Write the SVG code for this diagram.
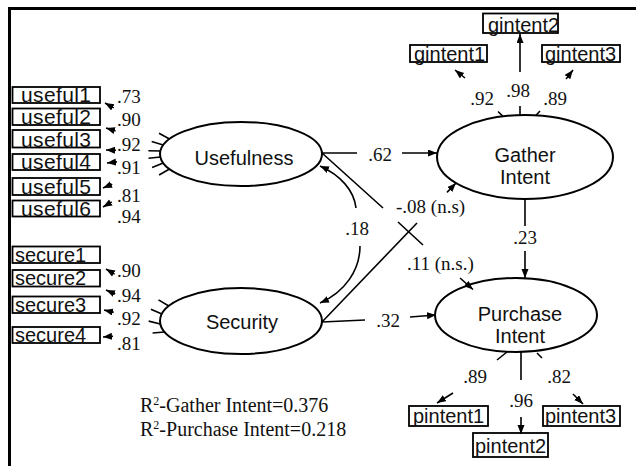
<svg xmlns="http://www.w3.org/2000/svg" width="636" height="466" viewBox="0 0 636 466">
  <style>
    .frame { stroke: #000; stroke-width: 3; fill: none; }
    .lv { fill: #fff; stroke: #000; stroke-width: 2; }
    .box { fill: #fff; stroke: #000; stroke-width: 1.8; }
    .sans { font-family: "Liberation Sans", Arial, sans-serif; font-size: 20px; fill: #111; }
    .ind { font-size: 21px; }
    .serif { font-family: "Liberation Serif", "Times New Roman", serif; font-size: 19px; fill: #111; }
    .note { font-size: 20px; }
    .mid { text-anchor: middle; }
    .ln { stroke: #000; stroke-width: 1.6; fill: none; }
    .arr { stroke: #000; stroke-width: 1.6; fill: none; marker-end: url(#ah); }
  </style>
  <defs>
    <marker id="ah" markerUnits="userSpaceOnUse" markerWidth="10" markerHeight="8" refX="9" refY="3.5" orient="auto">
      <path d="M0,0 L9,3.5 L0,7 z" fill="#000"/>
    </marker>
  </defs>

  <!-- page frame -->
  <path class="frame" d="M9.5,466 L9.5,8.5 L636,8.5"/>

  <!-- latent variables -->
  <g id="usefulness">
    <ellipse class="lv" cx="241" cy="154" rx="81" ry="32"/>
    <text class="sans mid" x="244" y="165">Usefulness</text>
  </g>
  <g id="security">
    <ellipse class="lv" cx="241" cy="321" rx="81" ry="33"/>
    <text class="sans mid" x="242" y="329">Security</text>
  </g>
  <g id="gather-intent">
    <ellipse class="lv" cx="525" cy="157" rx="88" ry="42"/>
    <text class="sans mid" x="525" y="162">Gather</text>
    <text class="sans mid" x="525" y="184">Intent</text>
  </g>
  <g id="purchase-intent">
    <ellipse class="lv" cx="516" cy="315" rx="81" ry="37"/>
    <text class="sans mid" x="520" y="321">Purchase</text>
    <text class="sans mid" x="520" y="343">Intent</text>
  </g>

  <!-- observed indicators -->
  <g id="useful1"><rect class="box" x="12.5" y="87" width="87.5" height="16"/><text class="sans ind" x="21" y="102" textLength="70">useful1</text></g>
  <g id="useful2"><rect class="box" x="12.5" y="108.5" width="87.5" height="16.5"/><text class="sans ind" x="21" y="124" textLength="70">useful2</text></g>
  <g id="useful3"><rect class="box" x="12.5" y="130" width="87.5" height="17.5"/><text class="sans ind" x="21" y="147" textLength="70">useful3</text></g>
  <g id="useful4"><rect class="box" x="12.5" y="154" width="87.5" height="16"/><text class="sans ind" x="21" y="169" textLength="70">useful4</text></g>
  <g id="useful5"><rect class="box" x="12.5" y="178" width="87.5" height="17"/><text class="sans ind" x="21" y="194" textLength="70">useful5</text></g>
  <g id="useful6"><rect class="box" x="12.5" y="200.5" width="87.5" height="16"/><text class="sans ind" x="21" y="216" textLength="70">useful6</text></g>

  <g id="secure1"><rect class="box" x="12.5" y="246.5" width="87.5" height="16.5"/><text class="sans" x="15" y="262">secure1</text></g>
  <g id="secure2"><rect class="box" x="12.5" y="270" width="87.5" height="16.5"/><text class="sans" x="15" y="285">secure2</text></g>
  <g id="secure3"><rect class="box" x="12.5" y="296.5" width="87.5" height="16.5"/><text class="sans" x="15" y="312">secure3</text></g>
  <g id="secure4"><rect class="box" x="12.5" y="327" width="87.5" height="16"/><text class="sans" x="15" y="342">secure4</text></g>

  <g id="gintent1"><rect class="box" x="410" y="45" width="77" height="17"/><text class="sans" x="414" y="61">gintent1</text></g>
  <g id="gintent2"><rect class="box" x="483" y="13.5" width="75" height="19.5"/><text class="sans" x="488" y="31.5">gintent2</text></g>
  <g id="gintent3"><rect class="box" x="542" y="45" width="78" height="17"/><text class="sans" x="545" y="61">gintent3</text></g>

  <g id="pintent1"><rect class="box" x="409" y="406" width="79" height="20"/><text class="sans" x="413" y="423">pintent1</text></g>
  <g id="pintent2"><rect class="box" x="473" y="433" width="75" height="24"/><text class="sans" x="475" y="453">pintent2</text></g>
  <g id="pintent3"><rect class="box" x="543" y="406" width="77" height="20"/><text class="sans" x="545" y="423">pintent3</text></g>

  <!-- connectors -->
  <g id="connectors">
    <!-- Usefulness loadings -->
    <path class="ln" d="M169.5,139 L159,133.2 M163.2,145 L151.7,141.6 M160.4,151 L148.4,150.8 M160.4,157 L148.5,158.3 M163.2,163 L152.1,167.6 M169.5,169 L159.1,175"/>
    <path class="arr" d="M113.7,107.9 L105,103"/>
    <path class="arr" d="M115.6,130.9 L106,128"/>
    <path class="arr" d="M116,150.2 L106,150"/>
    <path class="arr" d="M116.9,161.9 L107,163"/>
    <path class="arr" d="M112.2,184.2 L103,188"/>
    <path class="arr" d="M111.7,202 L103,207"/>

    <!-- Security loadings -->
    <path class="ln" d="M168.8,306 L158.5,299.9 M161.9,314 L150.9,309.3 M160.3,324 L148.7,321.1 M164.6,332 L152.6,333"/>
    <path class="arr" d="M114.6,274.1 L106,269"/>
    <path class="arr" d="M115.2,294 L106,290"/>
    <path class="arr" d="M113.7,312.4 L104,310"/>
    <path class="arr" d="M113,336.2 L103,337"/>

    <!-- Gather Intent loadings -->
    <path class="ln" d="M520,115 L520,106 M503,116.3 L498,111.5 M536,115.3 L540,111"/>
    <path class="arr" d="M520,72 L520,34"/>
    <path class="arr" d="M465,78 L455,70"/>
    <path class="arr" d="M566,79 L573,70"/>

    <!-- Purchase Intent loadings -->
    <path class="ln" d="M521,352 L521,380 M507,352 L497,360 M537,353 L542,358"/>
    <path class="arr" d="M521,417 L521,434"/>
    <path class="arr" d="M453,393 L437,403"/>
    <path class="arr" d="M573,394 L583,404"/>

    <!-- structural paths -->
    <path class="ln" d="M322,153 L357,153"/>
    <path class="arr" d="M402,153 L437,153"/>
    <path class="ln" d="M322,322 L365,320"/>
    <path class="arr" d="M410,317 L436,315"/>
    <path class="ln" d="M525,199 L525,226"/>
    <path class="arr" d="M525,251 L525,278"/>

    <!-- Usefulness to Purchase Intent -->
    <path class="ln" d="M322,153 L383,208 M398,222 L423,245"/>
    <path class="arr" d="M460,278 L473,289.5"/>
    <!-- Security to Gather Intent -->
    <path class="ln" d="M322,322 L417,223"/>
    <path class="arr" d="M447,192.4 L456,183"/>

    <!-- Usefulness with Security correlation -->
    <path class="arr" d="M356,208 C354,190 340,175 320,166"/>
    <path class="arr" d="M360,246 C360,270 345,292 320,303"/>
  </g>

  <!-- coefficient labels -->
  <g id="labels">
    <text class="serif" x="117" y="103">.73</text>
    <text class="serif" x="117" y="126">.90</text>
    <text class="serif" x="117" y="151">.92</text>
    <text class="serif" x="117" y="174">.91</text>
    <text class="serif" x="117" y="202">.81</text>
    <text class="serif" x="117" y="223">.94</text>

    <text class="serif" x="117" y="277">.90</text>
    <text class="serif" x="117" y="302">.94</text>
    <text class="serif" x="117" y="325">.92</text>
    <text class="serif" x="117" y="350">.81</text>

    <text class="serif mid" x="482" y="105">.92</text>
    <text class="serif mid" x="518" y="97">.98</text>
    <text class="serif mid" x="555" y="105">.89</text>

    <text class="serif mid" x="475" y="383">.89</text>
    <text class="serif mid" x="521" y="407">.96</text>
    <text class="serif mid" x="559" y="383">.82</text>

    <text class="serif mid" x="380" y="161">.62</text>
    <text class="serif mid" x="388" y="327">.32</text>
    <text class="serif mid" x="357" y="235">.18</text>
    <text class="serif mid" x="525" y="244">.23</text>
    <text class="serif" x="396" y="213">-.08 (n.s)</text>
    <text class="serif" x="407" y="270">.11 (n.s.)</text>

    <text class="serif note" x="140" y="412">R<tspan font-size="12" dy="-7">2</tspan><tspan dy="7">-Gather Intent=0.376</tspan></text>
    <text class="serif note" x="140" y="436">R<tspan font-size="12" dy="-7">2</tspan><tspan dy="7">-Purchase Intent=0.218</tspan></text>
  </g>
</svg>
